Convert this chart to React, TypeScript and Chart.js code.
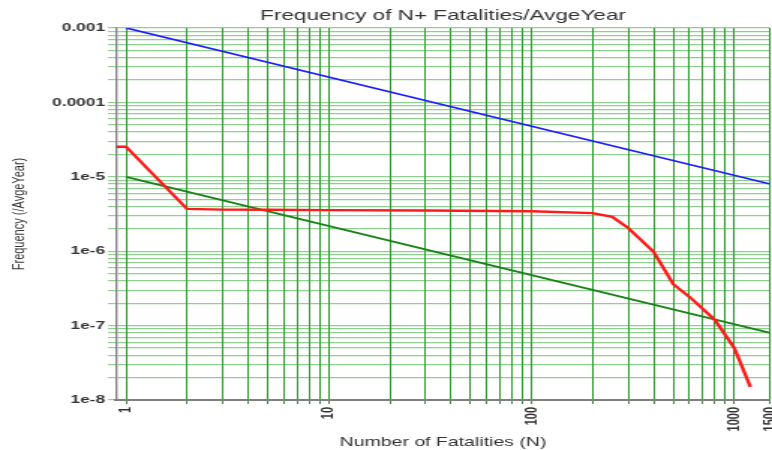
import { useEffect, useRef } from "react";
import { Chart, registerables } from "chart.js";

Chart.register(...registerables);

// ---- text ----
const TITLE = "Frequency of N+ Fatalities/AvgeYear";
const X_TITLE = "Number of Fatalities (N)";
const Y_TITLE = "Frequency (/AvgeYear)";

// ---- axes ----
const X_MIN = 0.893;
const X_MAX = 1500;
const Y_MIN = 1e-8;
const Y_MAX = 1e-3;

const X_TICK_VALUES = [1, 10, 100, 1000, 1500];
const X_TICK_LABELS = ["1", "10", "100", "1000", "1500"];
const X_DECADES = [1, 10, 100, 1000];
const Y_TICK_VALUES = [1e-8, 1e-7, 1e-6, 1e-5, 1e-4, 1e-3];
const Y_TICK_LABELS = ["1e-8", "1e-7", "1e-6", "1e-5", "0.0001", "0.001"];
const Y_DECADES = [1e-8, 1e-7, 1e-6, 1e-5, 1e-4];
const MINOR_STEPS = [1, 2, 3, 4, 5, 6, 7, 8, 9];

// ---- series ----
const RED_N = [0.893, 1, 2, 3, 5, 10, 30, 100, 200, 250, 300, 400, 500, 600, 800, 1000, 1200];
const RED_F = [2.54e-5, 2.54e-5, 3.7e-6, 3.62e-6, 3.6e-6, 3.56e-6, 3.52e-6, 3.45e-6, 3.25e-6, 2.9e-6, 2.05e-6, 9.8e-7, 3.6e-7, 2.45e-7, 1.2e-7, 5e-8, 1.5e-8];
const BLUE_N = [1, 1500];
const BLUE_F = [1e-3, 8e-6];
const GREEN_N = [1, 1500];
const GREEN_F = [1e-5, 8e-8];

// ---- layout / style ----
const OUT_W = 772;
const OUT_H = 450;
const CANVAS_W = 515;
const STRETCH = OUT_W / CANVAS_W;
const FONT = '"Liberation Sans", Arial, sans-serif';
const TEXT_COLOR = "#333333";

function buildTickValues(decades: number[], last: number) {
  const vals: number[] = [];
  decades.forEach((d) => {
    MINOR_STEPS.forEach((s) => {
      const v = d * s;
      if (v <= last * 1.000001) vals.push(v);
    });
  });
  if (!vals.some((v) => Math.abs(Math.log10(v) - Math.log10(last)) < 1e-6)) vals.push(last);
  return vals;
}

function labelFor(value: number, values: number[], labels: string[]) {
  const i = values.findIndex((v) => Math.abs(Math.log10(v) - Math.log10(value)) < 1e-6);
  return i >= 0 ? labels[i] : "";
}

const toPoints = (xs: number[], ys: number[]) => xs.map((x, i) => ({ x, y: ys[i] }));

export default function App() {
  const ref = useRef<HTMLCanvasElement | null>(null);

  useEffect(() => {
    if (!ref.current) return;
    const chart = new Chart(ref.current, {
      type: "line",
      data: {
        datasets: [
          {
            data: toPoints(RED_N, RED_F),
            borderColor: "rgb(255,25,25)",
            borderWidth: 2.4,
            pointRadius: 0,
            tension: 0,
          },
          {
            data: toPoints(BLUE_N, BLUE_F),
            borderColor: "rgb(30,30,255)",
            borderWidth: 1.8,
            pointRadius: 0,
            tension: 0,
          },
          {
            data: toPoints(GREEN_N, GREEN_F),
            borderColor: "rgb(25,130,25)",
            borderWidth: 1.8,
            pointRadius: 0,
            tension: 0,
          },
        ],
      },
      options: {
        animation: false,
        responsive: false,
        devicePixelRatio: 1,
        layout: { padding: { left: 0, right: CANVAS_W - 770 / STRETCH, top: 0, bottom: 0 } },
        plugins: {
          legend: { display: false },
          tooltip: { enabled: false },
          title: {
            display: true,
            text: TITLE,
            fullSize: false,
            color: TEXT_COLOR,
            font: { family: FONT, size: 15, weight: "normal" },
            padding: { top: 7, bottom: 3 },
          },
        },
        scales: {
          x: {
            type: "logarithmic",
            min: X_MIN,
            max: X_MAX,
            afterBuildTicks: (scale: any) => {
              scale.ticks = buildTickValues(X_DECADES, X_MAX).map((v) => ({ value: v }));
            },
            afterFit: (scale: any) => {
              scale.height = 50;
              scale.paddingLeft = 0;
              scale.paddingRight = 0;
            },
            grid: { color: "rgb(40,155,40)", lineWidth: 1, tickLength: 4, drawTicks: true },
            border: { display: true, color: "#7f7f7f", width: 2 },
            ticks: {
              autoSkip: false,
              minRotation: 90,
              maxRotation: 90,
              padding: 3,
              color: TEXT_COLOR,
              font: { family: FONT, size: 11, weight: "bold" },
              callback: (value: any) => labelFor(Number(value), X_TICK_VALUES, X_TICK_LABELS),
            },
            title: {
              display: true,
              text: X_TITLE,
              color: TEXT_COLOR,
              font: { family: FONT, size: 13, weight: "normal" },
              padding: { top: 0, bottom: 0 },
            },
          },
          y: {
            type: "logarithmic",
            min: Y_MIN,
            max: Y_MAX,
            afterBuildTicks: (scale: any) => {
              scale.ticks = buildTickValues(Y_DECADES, Y_MAX).map((v) => ({ value: v }));
            },
            afterFit: (scale: any) => {
              scale.width = 116 / STRETCH;
              scale.paddingTop = 0;
              scale.paddingBottom = 0;
            },
            grid: { color: "rgba(55,165,55,0.55)", lineWidth: 1.2, tickLength: 8 / STRETCH, drawTicks: true },
            border: { display: true, color: "#7f7f7f", width: 2 / STRETCH },
            ticks: {
              autoSkip: false,
              padding: 2,
              color: TEXT_COLOR,
              font: { family: FONT, size: 11.5, weight: "bold" },
              callback: (value: any) => labelFor(Number(value), Y_TICK_VALUES, Y_TICK_LABELS),
            },
            title: {
              display: true,
              text: Y_TITLE,
              color: TEXT_COLOR,
              font: { family: FONT, size: 11, weight: "normal" },
              padding: { top: 6.2, bottom: 0 },
            },
          },
        },
      },
    } as any);
    return () => chart.destroy();
  }, []);

  return (
    <div
      style={{
        position: "absolute",
        left: 0,
        top: 0,
        width: OUT_W,
        height: OUT_H,
        overflow: "hidden",
        background: "#ffffff",
      }}
    >
      <canvas
        ref={ref}
        width={CANVAS_W}
        height={OUT_H}
        style={{
          display: "block",
          width: CANVAS_W,
          height: OUT_H,
          transform: `scaleX(${STRETCH})`,
          transformOrigin: "0 0",
        }}
      />
    </div>
  );
}
